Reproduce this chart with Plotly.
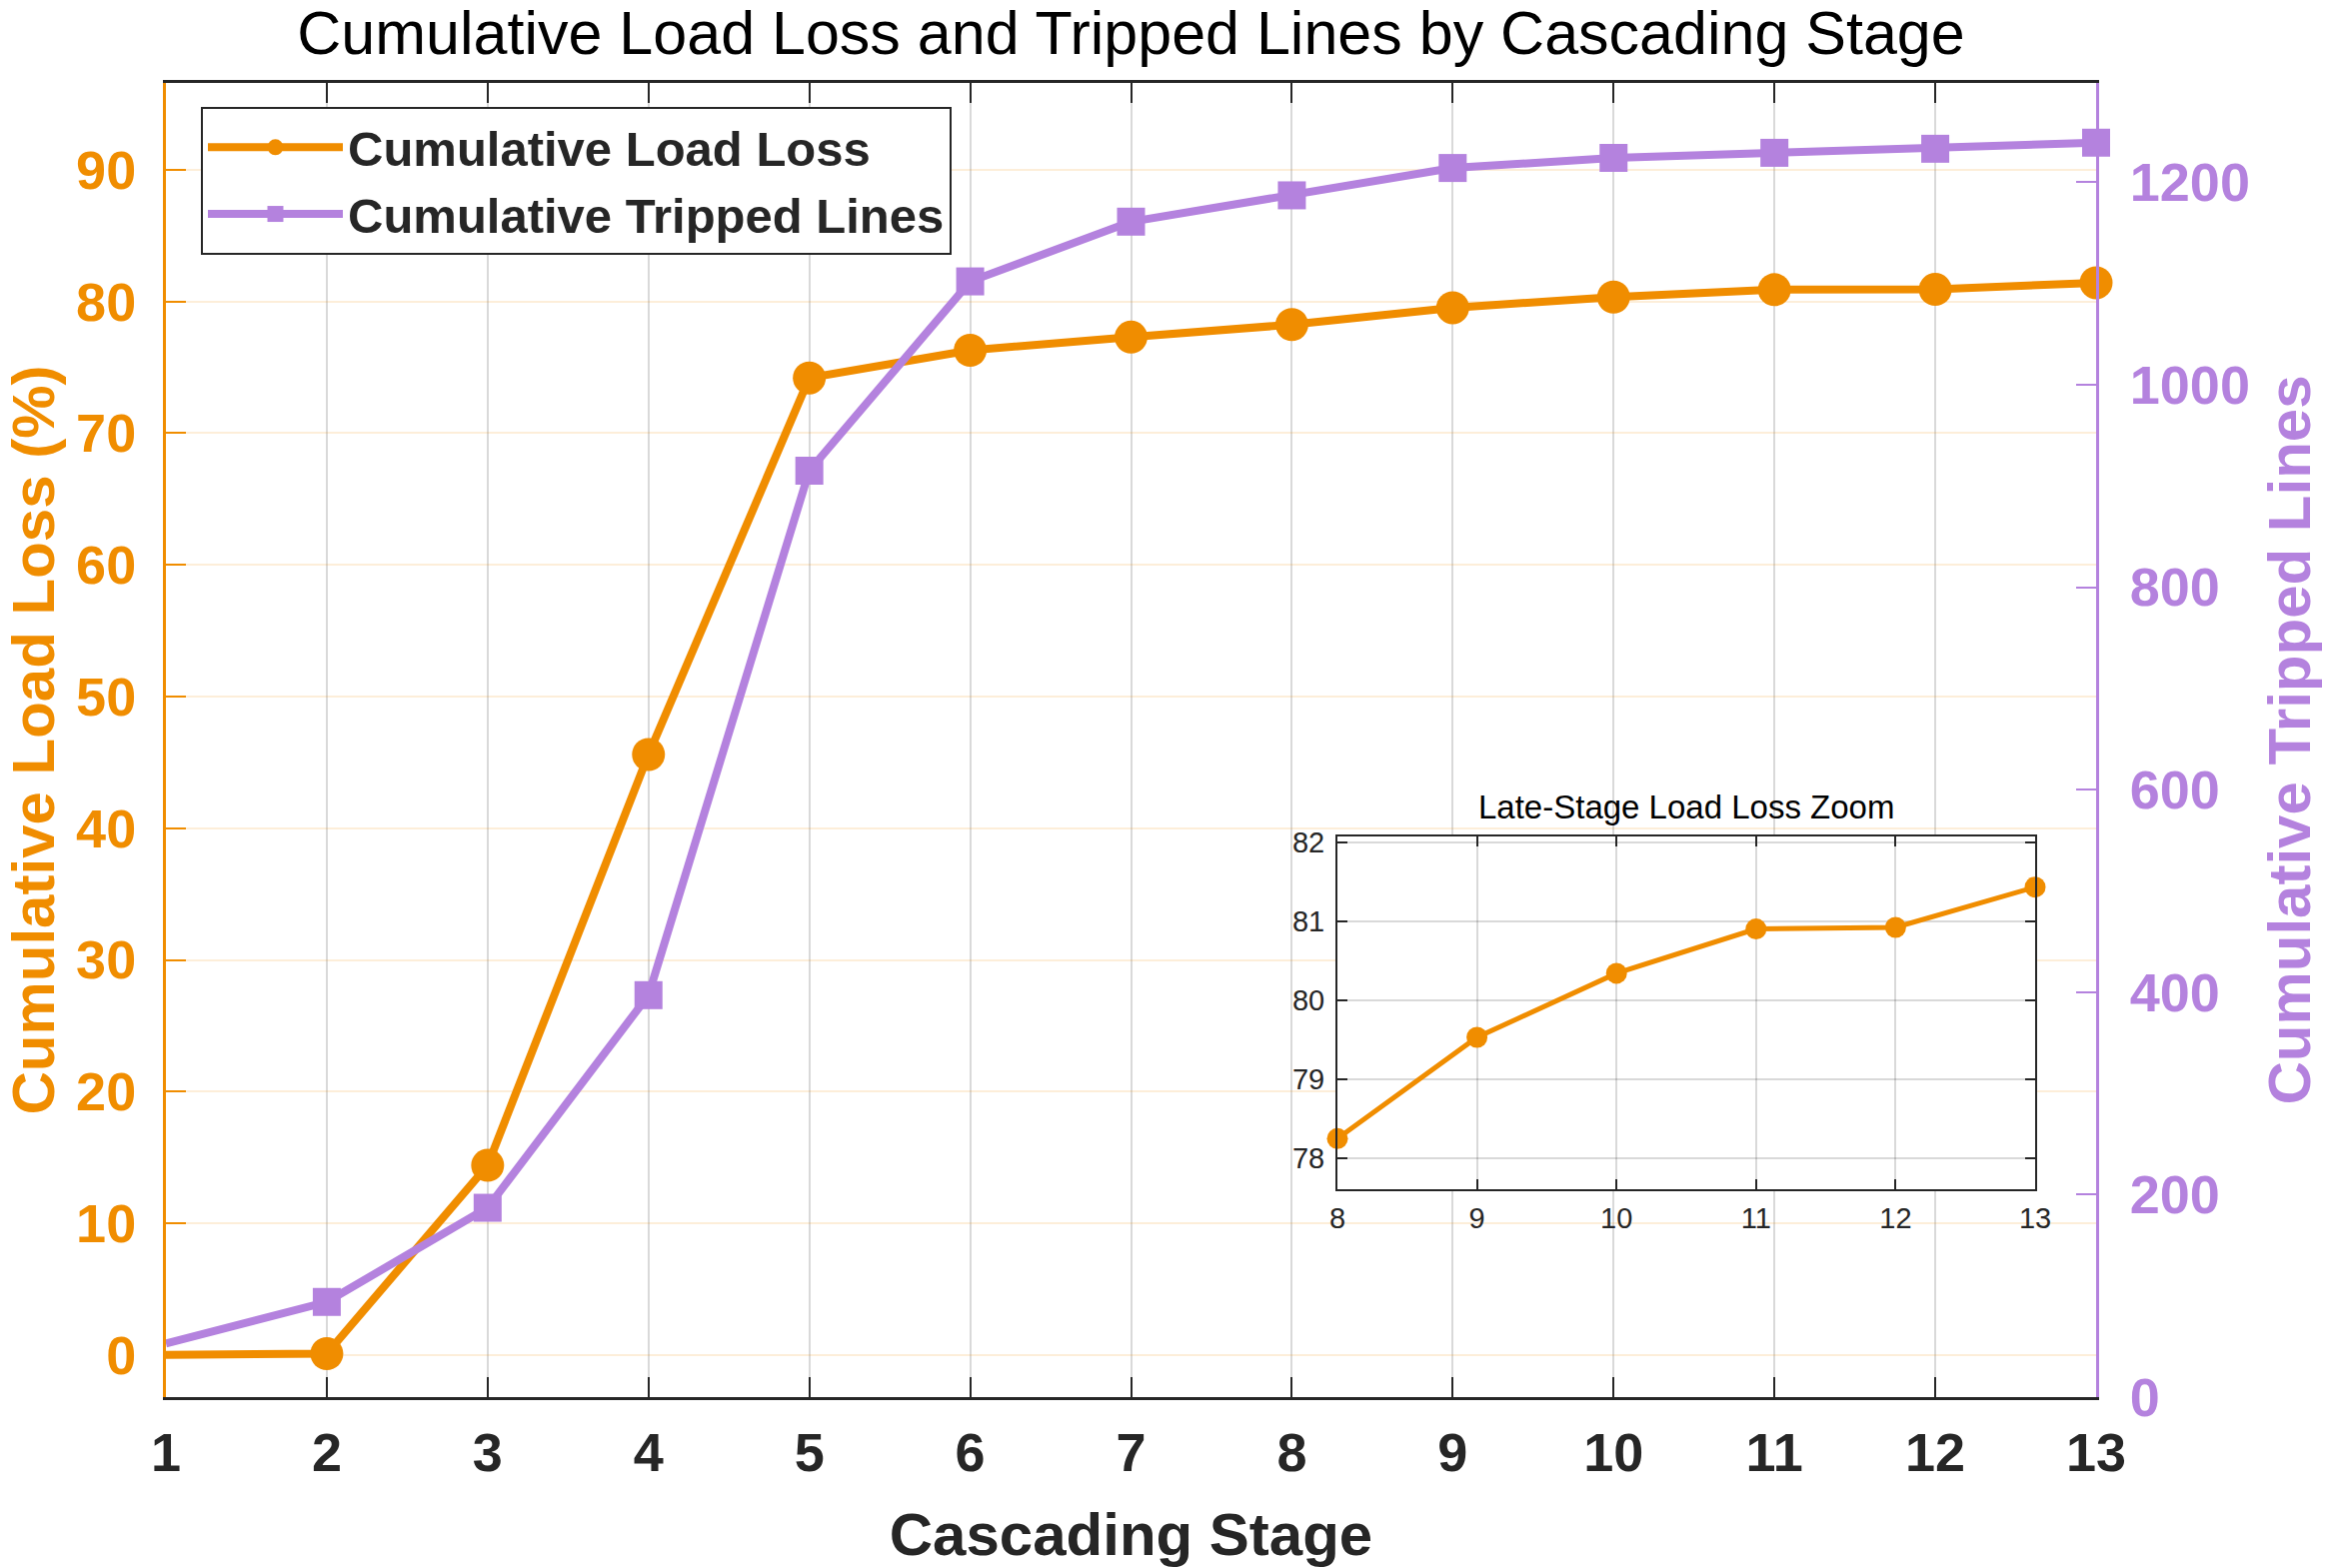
import plotly.graph_objects as go

# ---- data ----
stages = [1, 2, 3, 4, 5, 6, 7, 8, 9, 10, 11, 12, 13]
load_loss = [0.0, 0.1, 14.4, 45.6, 74.2, 76.3, 77.3, 78.25, 79.53, 80.34, 80.9, 80.92, 81.43]
tripped_lines = [53, 94, 187, 397, 915, 1102, 1161, 1187, 1214, 1224, 1229, 1233, 1239]
inset_start = 7  # index of stage 8

left_ticks = [0, 10, 20, 30, 40, 50, 60, 70, 80, 90]
right_ticks = [0, 200, 400, 600, 800, 1000, 1200]
inset_yticks = [78, 79, 80, 81, 82]

ORANGE = "rgb(240,141,0)"
PURPLE = "rgb(180,130,222)"
DARK = "rgb(38,38,38)"
FONT = "Liberation Sans, Arial, sans-serif"

W, H = 2339, 1569
ML, MR, MT, MB = 166, 242, 83, 171

n = len(stages)
fig = go.Figure()

fig.add_trace(go.Scatter(
    x=stages, y=load_loss, name="Cumulative Load Loss",
    mode="lines+markers", cliponaxis=False,
    line=dict(color=ORANGE, width=8),
    marker=dict(symbol="circle", size=[0] + [33] * (n - 1), color=ORANGE,
                opacity=1, line=dict(width=0)),
    xaxis="x", yaxis="y",
))
fig.add_trace(go.Scatter(
    x=stages, y=tripped_lines, name="Cumulative Tripped Lines",
    mode="lines+markers", cliponaxis=False,
    line=dict(color=PURPLE, width=8),
    marker=dict(symbol="square", size=[0] + [28] * (n - 1), color=PURPLE,
                opacity=1, line=dict(width=0)),
    xaxis="x", yaxis="y2",
))
fig.add_trace(go.Scatter(
    x=stages[inset_start:], y=load_loss[inset_start:], showlegend=False,
    mode="lines+markers", cliponaxis=False,
    line=dict(color=ORANGE, width=5),
    marker=dict(symbol="circle", size=21, color=ORANGE, opacity=1, line=dict(width=0)),
    xaxis="x3", yaxis="y3",
))

plot_w = W - ML - MR
plot_h = H - MT - MB
ix0, ix1 = 1338, 2036
iy0, iy1 = 837, 1190
inset_xdom = [(ix0 - ML) / plot_w, (ix1 - ML) / plot_w]
inset_ydom = [(H - MB - iy1) / plot_h, (H - MB - iy0) / plot_h]

fig.update_layout(
    width=W, height=H,
    margin=dict(l=ML, r=MR, t=MT, b=MB, pad=0, autoexpand=False),
    paper_bgcolor="white", plot_bgcolor="white",
    font=dict(family=FONT, color=DARK),
    title=dict(text="Cumulative Load Loss and Tripped Lines by Cascading Stage",
               x=0.5, xref="paper", xanchor="center",
               y=1 - 33 / H, yanchor="middle",
               font=dict(size=61, color="black", family=FONT)),
    xaxis=dict(
        automargin=False,
        range=[1, 13], tickvals=stages, ticks="inside", ticklen=20, tickwidth=2,
        tickcolor=DARK, showline=True, linecolor=DARK, linewidth=3, mirror="ticks",
        showgrid=True, gridcolor="rgba(0,0,0,0.15)", gridwidth=2, zeroline=False,
        tickfont=dict(size=54, color=DARK, weight="bold"), ticklabelstandoff=6,
        title=dict(text="Cascading Stage", standoff=38,
                   font=dict(size=60, color=DARK, weight="bold")),
    ),
    yaxis=dict(
        automargin=False,
        range=[-3.2, 96.6], tickvals=left_ticks, ticks="inside", ticklen=20, tickwidth=2,
        tickcolor=ORANGE, showline=True, linecolor=ORANGE, linewidth=3,
        showgrid=True, gridcolor="rgba(240,141,0,0.15)", gridwidth=2, zeroline=False,
        tickfont=dict(size=54, color=ORANGE, weight="bold"), ticklabelstandoff=16,
        title=dict(text="Cumulative Load Loss (%)", standoff=30,
                   font=dict(size=60, color=ORANGE, weight="bold")),
    ),
    yaxis2=dict(
        automargin=False,
        range=[0, 1298], tickvals=right_ticks, ticks="inside", ticklen=20, tickwidth=2,
        tickcolor=PURPLE, showline=True, linecolor=PURPLE, linewidth=3,
        overlaying="y", side="right", anchor="x",
        showgrid=False, zeroline=False,
        tickfont=dict(size=54, color=PURPLE, weight="bold"), ticklabelstandoff=20,
        title=dict(text="Cumulative Tripped Lines", standoff=20,
                   font=dict(size=60, color=PURPLE, weight="bold")),
    ),
    xaxis3=dict(
        automargin=False,
        domain=inset_xdom, anchor="y3", range=[8, 13], tickvals=stages[inset_start:],
        ticks="inside", ticklen=10, tickwidth=2, tickcolor=DARK,
        showline=True, linecolor=DARK, linewidth=2, mirror="ticks",
        showgrid=True, gridcolor="rgba(0,0,0,0.15)", gridwidth=2, zeroline=False,
        tickfont=dict(size=29, color=DARK), ticklabelstandoff=2,
    ),
    yaxis3=dict(
        automargin=False,
        domain=inset_ydom, anchor="x3", range=[77.61, 82.07], tickvals=inset_yticks,
        ticks="inside", ticklen=10, tickwidth=2, tickcolor=DARK,
        showline=True, linecolor=DARK, linewidth=2, mirror="ticks",
        showgrid=True, gridcolor="rgba(0,0,0,0.15)", gridwidth=2, zeroline=False,
        tickfont=dict(size=29, color=DARK), ticklabelstandoff=5,
    ),
    legend=dict(
        x=(201 - ML) / plot_w, y=(H - MB - 107) / plot_h, xanchor="left", yanchor="top",
        bgcolor="white", bordercolor=DARK, borderwidth=2,
        font=dict(size=49, color=DARK, family=FONT, weight="bold"),
        itemwidth=135, tracegroupgap=0,
    ),
    annotations=[dict(
        text="Late-Stage Load Loss Zoom", xref="paper", yref="paper",
        x=(inset_xdom[0] + inset_xdom[1]) / 2, y=(H - MB - 807) / plot_h,
        xanchor="center", yanchor="middle", showarrow=False,
        font=dict(size=33, color="black", family=FONT),
    )],
)

fig.write_html("out.html")
